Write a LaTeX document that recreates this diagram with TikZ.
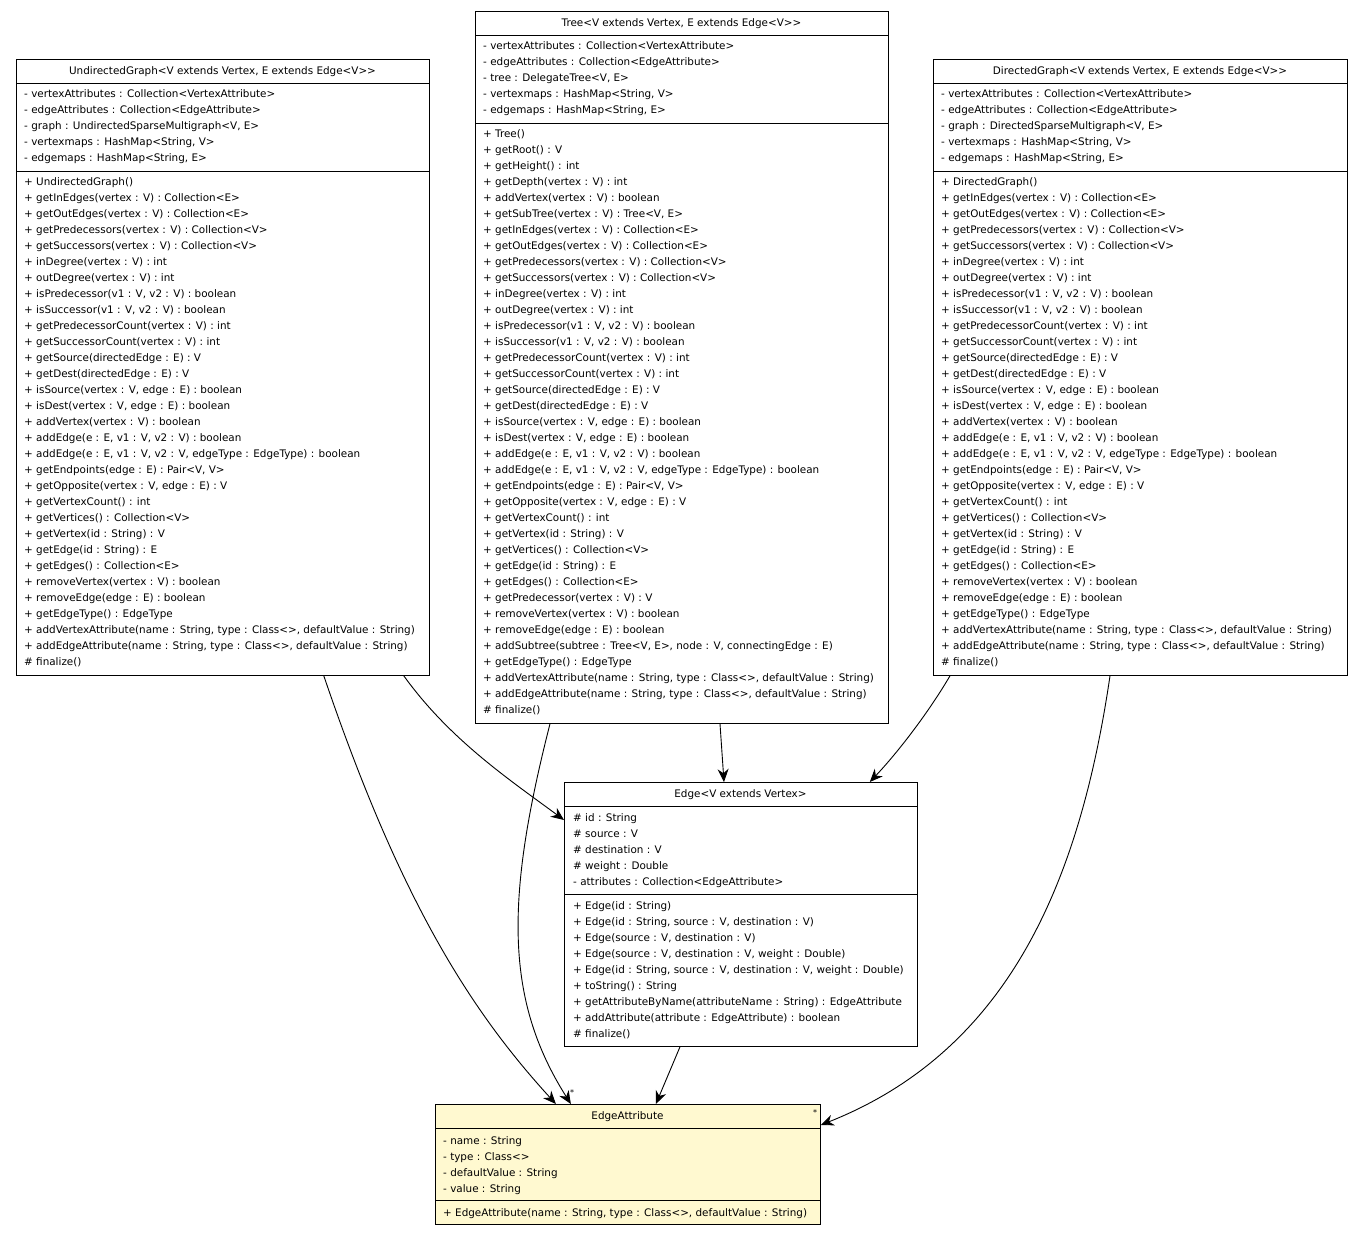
\documentclass[tikz,border=0pt]{standalone}
\usepackage{fontspec}
\setmainfont{DejaVu Sans}
\usetikzlibrary{positioning}
\usetikzlibrary{calc}
\usetikzlibrary{arrows.meta}

\tikzset{
  classbox/.style={draw, thick, fill=white, inner sep=0pt, anchor=north west},
  member/.style={anchor=west, inner sep=0pt, yshift=-1.5pt, text height=7.5pt, text depth=2.5pt, font=\fontsize{10.4}{12}\selectfont},
  title/.style={inner sep=0pt, yshift=-1pt, text height=7.5pt, text depth=2.5pt, font=\fontsize{10.4}{12}\selectfont},
  assoc/.style={-{Stealth[length=13pt,width=11pt]}, line width=0.9pt},
  mult/.style={inner sep=0pt, font=\fontsize{8}{9}\selectfont}
}

\begin{document}
\begin{tikzpicture}[x=1pt, y=-1pt]
\useasboundingbox (0,0) rectangle (1363,1235);

% UndirectedGraph
\node[classbox, minimum width=413pt, minimum height=616pt] (undirected) at (16,59) {};
\draw[thick] (16,83) -- (429,83);
\draw[thick] (16,171) -- (429,171);
\node[title] (utitle) at (222.5,71) {UndirectedGraph<V extends Vertex, E extends Edge<V>{}>};
\foreach \txt [count=\i from 0] in {
  {- vertexAttributes : Collection<VertexAttribute>},
  {- edgeAttributes : Collection<EdgeAttribute>},
  {- graph : UndirectedSparseMultigraph<V, E>},
  {- vertexmaps : HashMap<String, V>},
  {- edgemaps : HashMap<String, E>}}
  \node[member] (ua\i) at (24,93+16*\i) {\txt};
\foreach \txt [count=\i from 0] in {
  {+ UndirectedGraph()},
  {+ getInEdges(vertex : V) : Collection<E>},
  {+ getOutEdges(vertex : V) : Collection<E>},
  {+ getPredecessors(vertex : V) : Collection<V>},
  {+ getSuccessors(vertex : V) : Collection<V>},
  {+ inDegree(vertex : V) : int},
  {+ outDegree(vertex : V) : int},
  {+ isPredecessor(v1 : V, v2 : V) : boolean},
  {+ isSuccessor(v1 : V, v2 : V) : boolean},
  {+ getPredecessorCount(vertex : V) : int},
  {+ getSuccessorCount(vertex : V) : int},
  {+ getSource(directedEdge : E) : V},
  {+ getDest(directedEdge : E) : V},
  {+ isSource(vertex : V, edge : E) : boolean},
  {+ isDest(vertex : V, edge : E) : boolean},
  {+ addVertex(vertex : V) : boolean},
  {+ addEdge(e : E, v1 : V, v2 : V) : boolean},
  {+ addEdge(e : E, v1 : V, v2 : V, edgeType : EdgeType) : boolean},
  {+ getEndpoints(edge : E) : Pair<V, V>},
  {+ getOpposite(vertex : V, edge : E) : V},
  {+ getVertexCount() : int},
  {+ getVertices() : Collection<V>},
  {+ getVertex(id : String) : V},
  {+ getEdge(id : String) : E},
  {+ getEdges() : Collection<E>},
  {+ removeVertex(vertex : V) : boolean},
  {+ removeEdge(edge : E) : boolean},
  {+ getEdgeType() : EdgeType},
  {+ addVertexAttribute(name : String, type : Class<>, defaultValue : String)},
  {+ addEdgeAttribute(name : String, type : Class<>, defaultValue : String)},
  {\# finalize()}}
  \node[member] (um\i) at (24,181+16*\i) {\txt};

% Tree
\node[classbox, minimum width=413pt, minimum height=712pt] (tree) at (475,11) {};
\draw[thick] (475,35) -- (888,35);
\draw[thick] (475,123) -- (888,123);
\node[title] (ttitle) at (681.5,23) {Tree<V extends Vertex, E extends Edge<V>{}>};
\foreach \txt [count=\i from 0] in {
  {- vertexAttributes : Collection<VertexAttribute>},
  {- edgeAttributes : Collection<EdgeAttribute>},
  {- tree : DelegateTree<V, E>},
  {- vertexmaps : HashMap<String, V>},
  {- edgemaps : HashMap<String, E>}}
  \node[member] (ta\i) at (483,45+16*\i) {\txt};
\foreach \txt [count=\i from 0] in {
  {+ Tree()},
  {+ getRoot() : V},
  {+ getHeight() : int},
  {+ getDepth(vertex : V) : int},
  {+ addVertex(vertex : V) : boolean},
  {+ getSubTree(vertex : V) : Tree<V, E>},
  {+ getInEdges(vertex : V) : Collection<E>},
  {+ getOutEdges(vertex : V) : Collection<E>},
  {+ getPredecessors(vertex : V) : Collection<V>},
  {+ getSuccessors(vertex : V) : Collection<V>},
  {+ inDegree(vertex : V) : int},
  {+ outDegree(vertex : V) : int},
  {+ isPredecessor(v1 : V, v2 : V) : boolean},
  {+ isSuccessor(v1 : V, v2 : V) : boolean},
  {+ getPredecessorCount(vertex : V) : int},
  {+ getSuccessorCount(vertex : V) : int},
  {+ getSource(directedEdge : E) : V},
  {+ getDest(directedEdge : E) : V},
  {+ isSource(vertex : V, edge : E) : boolean},
  {+ isDest(vertex : V, edge : E) : boolean},
  {+ addEdge(e : E, v1 : V, v2 : V) : boolean},
  {+ addEdge(e : E, v1 : V, v2 : V, edgeType : EdgeType) : boolean},
  {+ getEndpoints(edge : E) : Pair<V, V>},
  {+ getOpposite(vertex : V, edge : E) : V},
  {+ getVertexCount() : int},
  {+ getVertex(id : String) : V},
  {+ getVertices() : Collection<V>},
  {+ getEdge(id : String) : E},
  {+ getEdges() : Collection<E>},
  {+ getPredecessor(vertex : V) : V},
  {+ removeVertex(vertex : V) : boolean},
  {+ removeEdge(edge : E) : boolean},
  {+ addSubtree(subtree : Tree<V, E>, node : V, connectingEdge : E)},
  {+ getEdgeType() : EdgeType},
  {+ addVertexAttribute(name : String, type : Class<>, defaultValue : String)},
  {+ addEdgeAttribute(name : String, type : Class<>, defaultValue : String)},
  {\# finalize()}}
  \node[member] (tm\i) at (483,133+16*\i) {\txt};

% DirectedGraph
\node[classbox, minimum width=414pt, minimum height=616pt] (directed) at (933,59) {};
\draw[thick] (933,83) -- (1347,83);
\draw[thick] (933,171) -- (1347,171);
\node[title] (dtitle) at (1140,71) {DirectedGraph<V extends Vertex, E extends Edge<V>{}>};
\foreach \txt [count=\i from 0] in {
  {- vertexAttributes : Collection<VertexAttribute>},
  {- edgeAttributes : Collection<EdgeAttribute>},
  {- graph : DirectedSparseMultigraph<V, E>},
  {- vertexmaps : HashMap<String, V>},
  {- edgemaps : HashMap<String, E>}}
  \node[member] (da\i) at (941,93+16*\i) {\txt};
\foreach \txt [count=\i from 0] in {
  {+ DirectedGraph()},
  {+ getInEdges(vertex : V) : Collection<E>},
  {+ getOutEdges(vertex : V) : Collection<E>},
  {+ getPredecessors(vertex : V) : Collection<V>},
  {+ getSuccessors(vertex : V) : Collection<V>},
  {+ inDegree(vertex : V) : int},
  {+ outDegree(vertex : V) : int},
  {+ isPredecessor(v1 : V, v2 : V) : boolean},
  {+ isSuccessor(v1 : V, v2 : V) : boolean},
  {+ getPredecessorCount(vertex : V) : int},
  {+ getSuccessorCount(vertex : V) : int},
  {+ getSource(directedEdge : E) : V},
  {+ getDest(directedEdge : E) : V},
  {+ isSource(vertex : V, edge : E) : boolean},
  {+ isDest(vertex : V, edge : E) : boolean},
  {+ addVertex(vertex : V) : boolean},
  {+ addEdge(e : E, v1 : V, v2 : V) : boolean},
  {+ addEdge(e : E, v1 : V, v2 : V, edgeType : EdgeType) : boolean},
  {+ getEndpoints(edge : E) : Pair<V, V>},
  {+ getOpposite(vertex : V, edge : E) : V},
  {+ getVertexCount() : int},
  {+ getVertices() : Collection<V>},
  {+ getVertex(id : String) : V},
  {+ getEdge(id : String) : E},
  {+ getEdges() : Collection<E>},
  {+ removeVertex(vertex : V) : boolean},
  {+ removeEdge(edge : E) : boolean},
  {+ getEdgeType() : EdgeType},
  {+ addVertexAttribute(name : String, type : Class<>, defaultValue : String)},
  {+ addEdgeAttribute(name : String, type : Class<>, defaultValue : String)},
  {\# finalize()}}
  \node[member] (dm\i) at (941,181+16*\i) {\txt};

% Edge
\node[classbox, minimum width=353pt, minimum height=264pt] (edge) at (564,782) {};
\draw[thick] (564,806) -- (917,806);
\draw[thick] (564,894) -- (917,894);
\node[title] (etitle) at (740.5,794) {Edge<V extends Vertex>};
\foreach \txt [count=\i from 0] in {
  {\# id : String},
  {\# source : V},
  {\# destination : V},
  {\# weight : Double},
  {- attributes : Collection<EdgeAttribute>}}
  \node[member] (ea\i) at (573,817+16*\i) {\txt};
\foreach \txt [count=\i from 0] in {
  {+ Edge(id : String)},
  {+ Edge(id : String, source : V, destination : V)},
  {+ Edge(source : V, destination : V)},
  {+ Edge(source : V, destination : V, weight : Double)},
  {+ Edge(id : String, source : V, destination : V, weight : Double)},
  {+ toString() : String},
  {+ getAttributeByName(attributeName : String) : EdgeAttribute},
  {+ addAttribute(attribute : EdgeAttribute) : boolean},
  {\# finalize()}}
  \node[member] (em\i) at (573,905+16*\i) {\txt};

% EdgeAttribute
\node[classbox, fill={rgb,255:red,255;green,249;blue,208}, minimum width=385pt, minimum height=120pt] (edgeattr) at (435,1104) {};
\draw[thick] (435,1128) -- (820,1128);
\draw[thick] (435,1200) -- (820,1200);
\node[title] (atitle) at (627.5,1116) {EdgeAttribute};
\foreach \txt [count=\i from 0] in {
  {- name : String},
  {- type : Class<>},
  {- defaultValue : String},
  {- value : String}}
  \node[member] (aa\i) at (443,1140+16*\i) {\txt};
\node[member] (am0) at (443,1212) {+ EdgeAttribute(name : String, type : Class<>, defaultValue : String)};

% associations
\draw[assoc] ([xshift=-106pt]undirected.south east) .. controls (400,900) and (470,1010) .. ([xshift=-72pt]edgeattr.north);
\draw[assoc] ([xshift=-26pt]undirected.south east) .. controls (450,740) and (510,780) .. ([yshift=-38pt]edge.north west);
\draw[assoc] ([xshift=75pt]tree.south west) .. controls (505,900) and (505,1000) .. ([xshift=-57pt]edgeattr.north);
\draw[assoc] ([xshift=245pt]tree.south west) -- ([xshift=160pt]edge.north west);
\draw[assoc] ([xshift=17pt]directed.south west) .. controls (930,710) and (900,750) .. ([xshift=-48pt]edge.north east);
\draw[assoc] ([xshift=177pt]directed.south west) .. controls (1080,880) and (1010,1050) .. ([yshift=-21pt]edgeattr.north east);
\draw[assoc] ([xshift=116pt]edge.south west) -- ([xshift=28pt]edgeattr.north);

% multiplicities
\node[mult] (m1) at (572,1093) {*};
\node[mult] (m2) at (815,1113) {*};
\end{tikzpicture}
\end{document}
